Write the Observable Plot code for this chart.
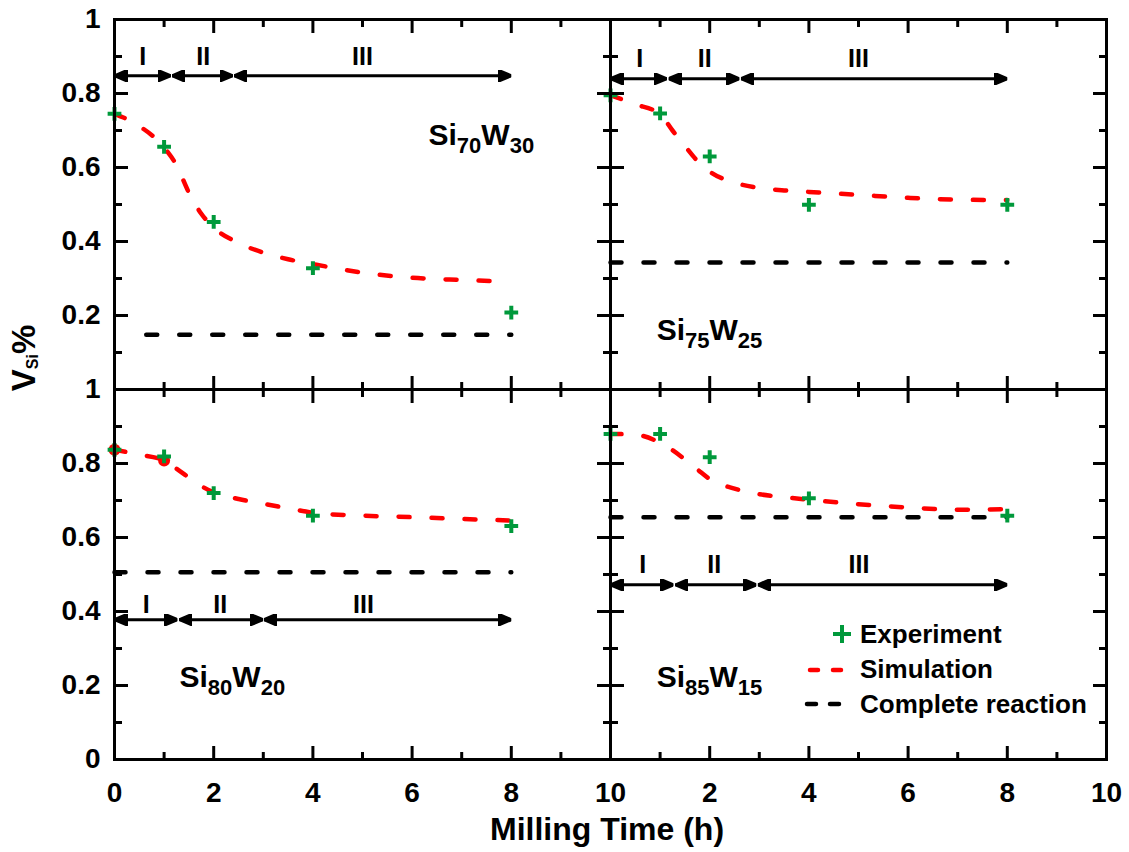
<!DOCTYPE html>
<html>
<head>
<meta charset="utf-8">
<script src="https://cdn.jsdelivr.net/npm/d3@7"></script>
<script src="https://cdn.jsdelivr.net/npm/@observablehq/plot@0.6"></script>
<style>
  body { margin: 0; background: #fff; }
  #chart { position: relative; width: 1129px; height: 852px; font-family: "Liberation Sans", Arial, sans-serif; }
  #legend { position: absolute; left: 790px; top: 610px; overflow: visible; }
</style>
</head>
<body>
<div id="chart"></div>
<script>
// ---------------- data ----------------
const panelNames = ["Si70W30", "Si75W25", "Si80W20", "Si85W15"];
const panelCols = ["L", "R", "L", "R"];
const panelRows = ["T", "T", "B", "B"];

// experiment (green +)
const expHours = [0, 1, 2, 4, 8];
const expSi70W30 = [0.745, 0.656, 0.453, 0.328, 0.208];
const expSi75W25 = [0.795, 0.746, 0.630, 0.499, 0.499];
const expSi80W20 = [0.837, 0.819, 0.720, 0.659, 0.631];
const expSi85W15 = [0.880, 0.880, 0.817, 0.706, 0.659];

// simulation (red dashed)
const simHoursSi70W30 = [0, 0.5, 1, 1.25, 1.5, 1.75, 2, 2.5, 3, 3.5, 4, 5, 6, 7, 7.6];
const simSi70W30 = [0.745, 0.712, 0.654, 0.606, 0.532, 0.475, 0.438, 0.396, 0.370, 0.352, 0.339, 0.316, 0.302, 0.296, 0.293];
const simHours = [0, 0.5, 1, 1.25, 1.5, 1.75, 2, 2.5, 3, 3.5, 4, 5, 6, 7, 8];
const simSi75W25 = [0.795, 0.771, 0.744, 0.700, 0.658, 0.618, 0.589, 0.559, 0.545, 0.538, 0.534, 0.526, 0.518, 0.513, 0.512];
const simSi80W20 = [0.837, 0.824, 0.808, 0.786, 0.762, 0.739, 0.722, 0.704, 0.691, 0.679, 0.667, 0.659, 0.655, 0.650, 0.646];
const simSi85W15 = [0.880, 0.878, 0.856, 0.836, 0.811, 0.784, 0.758, 0.732, 0.717, 0.709, 0.702, 0.690, 0.681, 0.675, 0.677];
// simulation markers shown in the Si80W20 panel
const simMarkHours = [0, 1];
const simMarkSi80W20 = [0.837, 0.808];

// complete reaction (black dashed)
const completeLevel = [0.148, 0.343, 0.506, 0.655];
const completeStart = [0.64, 0, 0, 0];
const completeEnd = [8, 8, 8, 8];

// milling stages I, II, III
const stageNames = ["I", "II", "III"];
const stageStartSi70W30 = [0, 1.16, 2.41], stageEndSi70W30 = [1.13, 2.38, 8];
const stageStartSi75W25 = [0, 1.17, 2.63], stageEndSi75W25 = [1.13, 2.60, 8];
const stageStartSi80W20 = [0, 1.31, 3.01], stageEndSi80W20 = [1.27, 2.99, 8];
const stageStartSi85W15 = [0, 1.31, 2.97], stageEndSi85W15 = [1.27, 2.94, 8];
const stageArrowLevel = [0.848, 0.840, 0.378, 0.472];
const stageLabelHoursSi70W30 = [0.57, 1.79, 5.0];
const stageLabelHoursSi75W25 = [0.59, 1.90, 5.0];
const stageLabelHoursSi80W20 = [0.64, 2.13, 5.02];
const stageLabelHoursSi85W15 = [0.65, 2.09, 5.01];
const stageLabelLevel = [0.898, 0.893, 0.418, 0.526];

// composition labels
const panelLabelHour = [6.33, 0.93, 1.31, 0.93];
const panelLabelLevel = [0.688, 0.161, 0.223, 0.221];

// axes
const xMajor = [0, 2, 4, 6, 8, 10];
const xMinor = [1, 3, 5, 7, 9];
const yMajor = [0, 0.2, 0.4, 0.6, 0.8, 1];
const yMinor = [0.1, 0.3, 0.5, 0.7, 0.9];
const xLabelsLeft = [0, 2, 4, 6, 8, 10];
const xLabelsRight = [2, 4, 6, 8, 10];
const yLabelsTop = [0.2, 0.4, 0.6, 0.8, 1];
const yLabelsBottom = [0, 0.2, 0.4, 0.6, 0.8, 1];

// ---------------- tables ----------------
const expSeries = [expSi70W30, expSi75W25, expSi80W20, expSi85W15];
const simSeries = [simSi70W30, simSi75W25, simSi80W20, simSi85W15];
const simHourSeries = [simHoursSi70W30, simHours, simHours, simHours];
const stageStarts = [stageStartSi70W30, stageStartSi75W25, stageStartSi80W20, stageStartSi85W15];
const stageEnds = [stageEndSi70W30, stageEndSi75W25, stageEndSi80W20, stageEndSi85W15];
const stageLabelHours = [stageLabelHoursSi70W30, stageLabelHoursSi75W25, stageLabelHoursSi80W20, stageLabelHoursSi85W15];

const base = (i) => ({name: panelNames[i], col: panelCols[i], row: panelRows[i]});
const expRows = panelNames.flatMap((_, i) => expHours.map((h, j) => ({...base(i), h, v: expSeries[i][j]})));
const simRows = panelNames.flatMap((_, i) => simHourSeries[i].map((h, j) => ({...base(i), h, v: simSeries[i][j]})));
const simMarkRows = simMarkHours.map((h, j) => ({...base(2), h, v: simMarkSi80W20[j]}));
const completeRows = panelNames.map((_, i) => ({...base(i), h1: completeStart[i], h2: completeEnd[i], v: completeLevel[i]}));
const arrowRows = panelNames.flatMap((_, i) => stageNames.map((s, j) => ({...base(i), h1: stageStarts[i][j], h2: stageEnds[i][j], v: stageArrowLevel[i]})));
const stageLabelRows = panelNames.flatMap((_, i) => stageNames.map((s, j) => ({...base(i), s, h: stageLabelHours[i][j], v: stageLabelLevel[i]})));
const panelLabelRows = panelNames.map((_, i) => ({...base(i), h: panelLabelHour[i], v: panelLabelLevel[i]}));

const GREEN = "#00993b";
const RED = "#ff0000";
const FONT = "Liberation Sans, Arial, sans-serif";

function arrowHead(color) {
  return d3.create("svg:marker")
    .attr("viewBox", "-13 -6 13 12")
    .attr("markerWidth", 13)
    .attr("markerHeight", 12)
    .attr("markerUnits", "userSpaceOnUse")
    .attr("orient", "auto-start-reverse")
    .attr("fill", color)
    .call(m => m.append("path").attr("d", "M0,0L-13,-5.5L-13,5.5Z"))
    .node();
}

const tickCommon = {strokeWidth: 3, fill: "none", facetAnchor: null, label: null};
const labelCommon = {tickSize: 0, fontSize: 28, fontWeight: "bold", label: null, stroke: "none"};
const fmt = d => String(d);

const plot = Plot.plot({
  width: 1129,
  height: 852,
  marginLeft: 114,
  marginRight: 23,
  marginTop: 18,
  marginBottom: 93,
  style: {fontFamily: FONT, color: "black", background: "white", overflow: "visible"},
  x: {domain: [0, 10]},
  y: {domain: [0, 1]},
  fx: {domain: ["L", "R"], padding: 0, axis: null},
  fy: {domain: ["T", "B"], padding: 0, axis: null},
  marks: [
    // complete reaction
    Plot.link(completeRows, {x1: "h1", x2: "h2", y1: "v", y2: "v", fx: "col", fy: "row",
      stroke: "black", strokeWidth: 4.5, strokeDasharray: "11,22", strokeLinecap: "round"}),
    // simulation
    Plot.line(simRows, {x: "h", y: "v", z: "name", fx: "col", fy: "row", curve: "monotone-x",
      stroke: RED, strokeWidth: 4.5, strokeDasharray: "11,22", strokeLinecap: "round"}),
    Plot.dot(simMarkRows, {x: "h", y: "v", fx: "col", fy: "row", r: 6, fill: RED}),
    // experiment
    Plot.dot(expRows, {x: "h", y: "v", fx: "col", fy: "row", symbol: "plus", r: 4.5, stroke: GREEN, strokeWidth: 4}),
    // stage arrows and labels
    Plot.link(arrowRows, {x1: "h1", x2: "h2", y1: "v", y2: "v", fx: "col", fy: "row",
      stroke: "black", strokeWidth: 3, markerStart: arrowHead, markerEnd: arrowHead}),
    Plot.text(stageLabelRows, {x: "h", y: "v", text: "s", fx: "col", fy: "row", fontSize: 25, fontWeight: "bold", fill: "black"}),
    // composition labels
    Plot.text(panelLabelRows, {x: "h", y: "v", text: "name", fx: "col", fy: "row", textAnchor: "start", fontSize: 30, fontWeight: "bold", fill: "black"}),
    // frames
    Plot.frame({stroke: "black", strokeWidth: 3}),
    // inward ticks on every side of every panel
    Plot.axisX(xMajor, {...tickCommon, anchor: "bottom", tickSize: -13}),
    Plot.axisX(xMinor, {...tickCommon, anchor: "bottom", tickSize: -7}),
    Plot.axisX(xMajor, {...tickCommon, anchor: "top", tickSize: -13}),
    Plot.axisX(xMinor, {...tickCommon, anchor: "top", tickSize: -7}),
    Plot.axisY(yMajor, {...tickCommon, anchor: "left", tickSize: -14}),
    Plot.axisY(yMinor, {...tickCommon, anchor: "left", tickSize: -8}),
    Plot.axisY(yMajor, {...tickCommon, anchor: "right", tickSize: -14}),
    Plot.axisY(yMinor, {...tickCommon, anchor: "right", tickSize: -8}),
    // tick labels
    Plot.axisX(xLabelsLeft, {...labelCommon, anchor: "bottom", tickPadding: 23, tickFormat: fmt, fx: () => "L", fy: () => "B"}),
    Plot.axisX(xLabelsRight, {...labelCommon, anchor: "bottom", tickPadding: 23, tickFormat: fmt, fx: () => "R", fy: () => "B"}),
    Plot.axisY(yLabelsTop, {...labelCommon, anchor: "left", tickPadding: 14, tickFormat: fmt, fx: () => "L", fy: () => "T"}),
    Plot.axisY(yLabelsBottom, {...labelCommon, anchor: "left", tickPadding: 14, tickFormat: fmt, fx: () => "L", fy: () => "B"})
  ]
});

const chart = document.getElementById("chart");
chart.appendChild(plot);
const svg = d3.select(plot);

// subscripts in composition labels
svg.selectAll("text").each(function () {
  const t = this.textContent;
  const m = /^(Si)(\d+)(W)(\d+)$/.exec(t);
  if (!m || this.children.length) return;
  const el = d3.select(this);
  el.text("");
  el.append("tspan").text(m[1]);
  el.append("tspan").attr("font-size", 22).attr("dy", 8).text(m[2]);
  el.append("tspan").attr("font-size", 30).attr("dy", -8).text(m[3]);
  el.append("tspan").attr("font-size", 22).attr("dy", 8).text(m[4]);
});

// axis titles
svg.append("text")
  .attr("x", 607).attr("y", 840)
  .attr("text-anchor", "middle")
  .attr("font-family", FONT).attr("font-size", 32).attr("font-weight", "bold")
  .attr("fill", "black")
  .text("Milling Time (h)");

const yt = svg.append("text")
  .attr("transform", "translate(35,358) rotate(-90)")
  .attr("text-anchor", "middle")
  .attr("font-family", FONT).attr("font-size", 33).attr("font-weight", "bold")
  .attr("fill", "black");
yt.append("tspan").text("V");
yt.append("tspan").attr("font-size", 16).attr("dy", 3).text("Si");
yt.append("tspan").attr("font-size", 33).attr("dy", -3).text("%");

// legend
const legendItems = ["Experiment", "Simulation", "Complete reaction"];
const lg = d3.select(chart).append("svg")
  .attr("id", "legend").attr("width", 330).attr("height", 115);
lg.append("path").attr("d", "M43,24H61M52,15V33").attr("stroke", GREEN).attr("stroke-width", 4).attr("fill", "none");
lg.append("line").attr("x1", 20).attr("x2", 52).attr("y1", 60).attr("y2", 60)
  .attr("stroke", RED).attr("stroke-width", 4.5).attr("stroke-dasharray", "8,15").attr("stroke-linecap", "round");
lg.append("line").attr("x1", 17).attr("x2", 50).attr("y1", 94).attr("y2", 94)
  .attr("stroke", "black").attr("stroke-width", 4.5).attr("stroke-dasharray", "9,14").attr("stroke-linecap", "round");
lg.selectAll("text.item").data(legendItems).join("text")
  .attr("class", "item")
  .attr("x", 70).attr("y", (d, i) => 33 + i * 35)
  .attr("font-family", FONT).attr("font-size", 26).attr("font-weight", "bold")
  .attr("fill", "black")
  .text(d => d);
</script>
</body>
</html>
